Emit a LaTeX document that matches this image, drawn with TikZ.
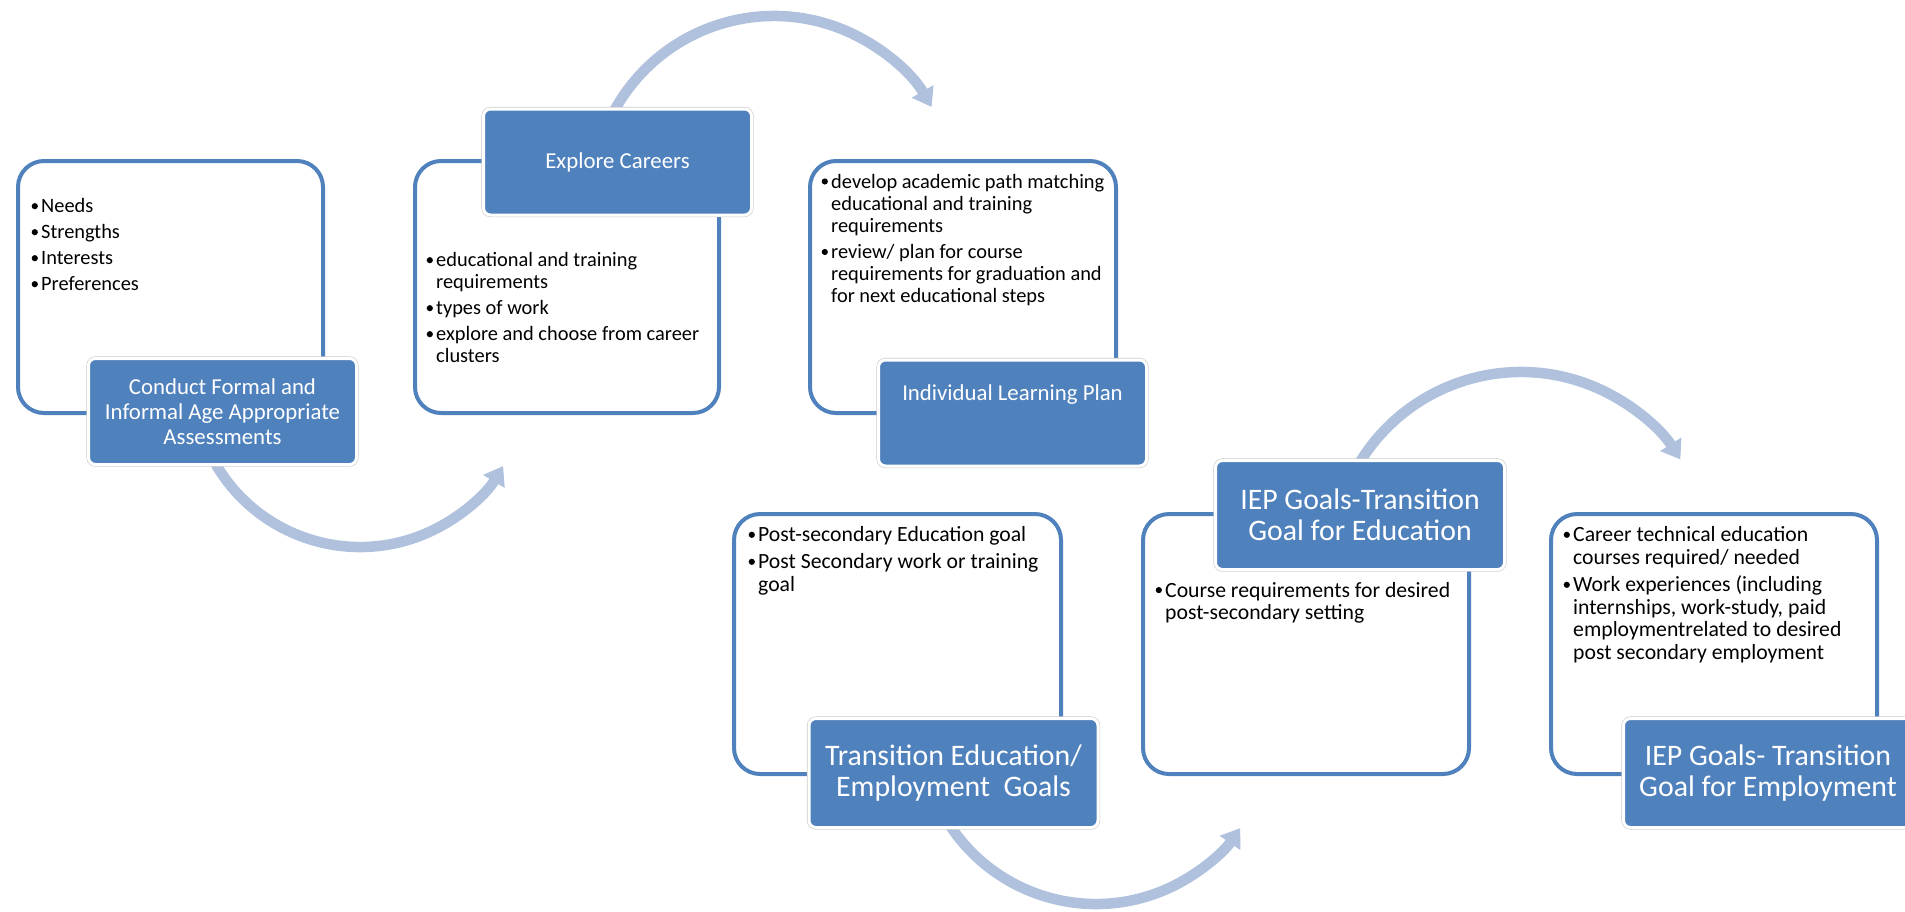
\documentclass[tikz,border=0pt]{standalone}
\usepackage{fontspec}
\setmainfont{Carlito}
\usetikzlibrary{arrows.meta}
\definecolor{acc}{HTML}{4F81BD}
\definecolor{arr}{HTML}{B0C1DD}
\newcommand{\bu}{\makebox[9.5pt][l]{\tikz[baseline=-0.33em]\fill (0,0) circle (3.1pt);}}
\newcommand{\ind}{\hspace*{9.5pt}}
\begin{document}
\begin{tikzpicture}[x=1pt,y=-1pt,
  wbox/.style={draw=acc, line width=4pt, rounded corners=26pt, fill=white, inner sep=0pt},
  lab/.style={rectangle, rounded corners=7pt, fill=acc, draw=white, line width=3pt,
    preaction={draw=gray!40, line width=4.2pt}, inner sep=0pt, text=white, align=center},
  labs/.style={lab, font=\fontsize{22.8}{25}\selectfont, minimum width=268pt, minimum height=106pt},
  labb/.style={lab, font=\fontsize{29.8}{31.5}\selectfont, minimum width=289pt, minimum height=109pt},
  labtxt/.style={inner sep=0pt, text=white, align=center, font=\fontsize{22.8}{25}\selectfont},
  bodys/.style={anchor=north west, inner sep=0pt, align=left, font=\fontsize{20.4}{22}\selectfont},
  bodyb/.style={anchor=north west, inner sep=0pt, align=left, font=\fontsize{21.7}{22.5}\selectfont},
  carr/.style={draw=arr, line width=10.5pt, -{Triangle[width=24pt,length=18pt]}}
]
\useasboundingbox (0,0) rectangle (1905,911);
\fill[white] (0,0) rectangle (1905,911);

% circular arrows (behind everything)
\coordinate (c1) at (360,380);
\coordinate (c2) at (774,198);
\coordinate (c3) at (1096,729);
\coordinate (c4) at (1521,561);
\draw[carr] ([shift={(155:167)}]c1) arc[start angle=155, end angle=31, radius=167];
\draw[carr] ([shift={(-156:182)}]c2) arc[start angle=-156, end angle=-30, radius=182];
\draw[carr] ([shift={(153:175)}]c3) arc[start angle=153, end angle=34.5, radius=175];
\draw[carr] ([shift={(-155:189)}]c4) arc[start angle=-155, end angle=-32.5, radius=189];

% white boxes
\node[wbox, minimum width=305pt, minimum height=252pt] (b1) at (170.5,287) {};
\node[wbox, minimum width=304pt, minimum height=252pt] (b2) at (567,287) {};
\node[wbox, minimum width=306pt, minimum height=252pt] (b3) at (963,287) {};
\node[wbox, minimum width=327pt, minimum height=260pt] (b4) at (897.5,644) {};
\node[wbox, minimum width=326pt, minimum height=260pt] (b5) at (1306,644) {};
\node[wbox, minimum width=326pt, minimum height=260pt] (b6) at (1714,644) {};

% body texts
\node[bodys] (t1) at (31.5,197.3) {\strut\bu Needs\\[4pt]\bu Strengths\\[4pt]\bu Interests\\[4pt]\bu Preferences};
\node[bodys] (t2) at (426.5,251.3) {\strut\bu educational and training\\\ind requirements\\[4pt]\bu types of work\\[4pt]\bu explore and choose from career\\\ind clusters};
\node[bodys] (t3) at (821.5,172.6) {\strut\bu develop academic path matching\\\ind educational and training\\\ind requirements\\[4.5pt]\bu review/ plan for course\\\ind requirements for graduation and\\\ind for next educational steps};
\node[bodyb] (t4) at (748.5,526) {\strut\bu Post-secondary Education goal\\[4.5pt]\bu Post Secondary work or training\\\ind goal};
\node[bodyb] (t5) at (1155.5,581.3) {\strut\bu Course requirements for desired\\\ind post-secondary setting};
\node[bodyb] (t6) at (1563.5,526) {\strut\bu Career technical education\\\ind courses required/ needed\\[5pt]\bu Work experiences (including\\\ind internships, work-study, paid\\\ind employmentrelated to desired\\\ind post secondary employment};

% label boxes
\node[labs] (l1) at (222.5,411.5) {Conduct Formal and\\Informal Age Appropriate\\Assessments};
\node[labs] (l2) at (617.5,162) {Explore Careers};
\node[labs] (l3) at (1012.5,413) {};
\node[labtxt] (l3t) at (1012.5,395) {Individual Learning Plan};
\node[labb] (l4) at (953.5,773) {Transition Education/\\Employment~ Goals};
\node[labb] (l5) at (1360,515) {IEP Goals-Transition\\Goal for Education};
\node[labb] (l6) at (1768,773) {IEP Goals- Transition\\Goal for Employment};
\end{tikzpicture}
\end{document}
